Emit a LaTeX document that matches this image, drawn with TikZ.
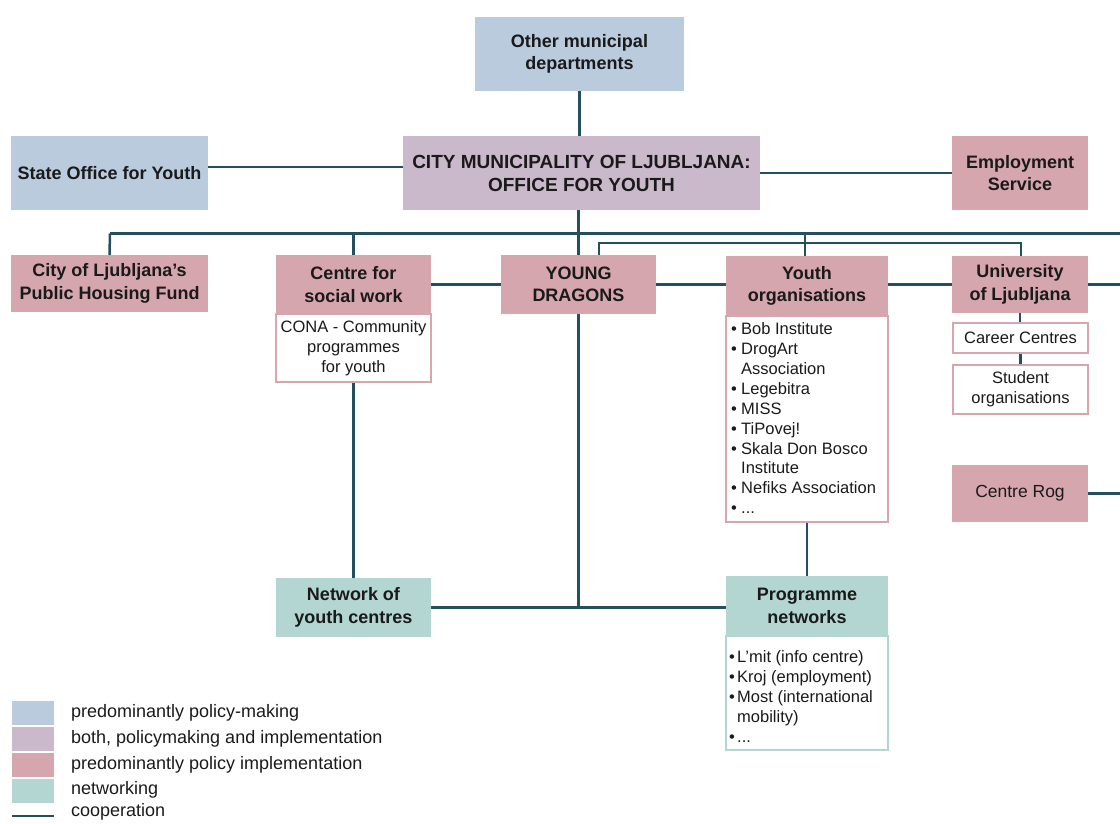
\documentclass[tikz,border=0pt]{standalone}
\usepackage{fontspec}
\setmainfont{Liberation Sans}
\definecolor{cblue}{HTML}{B9CBDD}
\definecolor{cpurple}{HTML}{C9B9CB}
\definecolor{cpink}{HTML}{D6A6AE}
\definecolor{cteal}{HTML}{B3D6D3}
\definecolor{cline}{HTML}{244F5D}
\definecolor{txt}{HTML}{1A1A1A}
\begin{document}
\begin{tikzpicture}[x=1pt,y=-1pt,
  box/.style={rectangle, inner sep=0pt, align=center, text=txt,
    font=\bfseries\fontsize{18}{22.5}\selectfont},
  policy/.style={box, fill=cblue},
  both/.style={box, fill=cpurple},
  impl/.style={box, fill=cpink},
  netw/.style={box, fill=cteal},
  subbox/.style={rectangle, inner sep=0pt, fill=white, draw=cpink, line width=1.4pt,
    align=center, text=txt, font=\fontsize{16.5}{20}\selectfont},
  listtext/.style={inner sep=0pt, align=left, text=txt, anchor=north west,
    font=\fontsize{16.5}{19.9}\selectfont},
  conn/.style={draw=cline, line width=2.5pt},
  swatch/.style={rectangle, inner sep=0pt, minimum width=42pt, minimum height=24pt},
  legtext/.style={inner sep=0pt, anchor=west, text=txt, font=\fontsize{18}{20}\selectfont}
]
\useasboundingbox (0,0) rectangle (1120,823);
\clip (0,0) rectangle (1120,823);

% ---------- nodes ----------
\node[policy, minimum width=209pt, minimum height=74pt] (other) at (579.5,54) {Other municipal\\departments};
\node[both, minimum width=357pt, minimum height=74pt, font=\bfseries\fontsize{19}{23}\selectfont] (city) at (581.5,173) {CITY MUNICIPALITY OF LJUBLJANA:\\OFFICE FOR YOUTH};
\node[policy, minimum width=197pt, minimum height=74pt] (state) at (109.5,173) {State Office for Youth};
\node[impl, minimum width=136pt, minimum height=74pt] (emp) at (1020,173) {Employment\\Service};

\node[impl, minimum width=197pt, minimum height=57pt] (housing) at (109.5,283.5) {City of Ljubljana’s\\Public Housing Fund};
\node[impl, minimum width=155pt, minimum height=59pt] (csw) at (353.5,284.5) {Centre for\\social work};
\node[subbox, minimum width=155pt, minimum height=68pt] (cona) at (353.5,348) {CONA - Community\\programmes\\for youth};
\node[impl, minimum width=155pt, minimum height=59pt] (yd) at (578.5,284.5) {YOUNG\\DRAGONS};
\node[impl, minimum width=162pt, minimum height=60pt] (yo) at (807,286) {Youth\\organisations};
\node[subbox, minimum width=162pt, minimum height=206pt] (yolist) at (807,419) {};
\node[listtext] (yotext) at (731,322.5) {%
\makebox[10pt][l]{•}Bob Institute\\
\makebox[10pt][l]{•}DrogArt\\
\makebox[10pt][l]{}Association\\
\makebox[10pt][l]{•}Legebitra\\
\makebox[10pt][l]{•}MISS\\
\makebox[10pt][l]{•}TiPovej!\\
\makebox[10pt][l]{•}Skala Don Bosco\\
\makebox[10pt][l]{}Institute\\
\makebox[10pt][l]{•}Nefiks Association\\
\makebox[10pt][l]{•}...};
\node[impl, minimum width=136pt, minimum height=57pt] (uni) at (1020,284.5) {University\\of Ljubljana};
\node[subbox, minimum width=135pt, minimum height=30pt] (career) at (1020.5,338) {Career Centres};
\node[subbox, minimum width=135pt, minimum height=49pt] (student) at (1020.5,389.5) {Student\\organisations};
\node[impl, minimum width=136pt, minimum height=57pt, font=\fontsize{17.5}{22}\selectfont] (rog) at (1020,493.5) {Centre Rog};

\node[netw, minimum width=155pt, minimum height=59pt] (nyc) at (353.5,607.5) {Network of\\youth centres};
\node[netw, minimum width=162pt, minimum height=60pt] (pn) at (807,606) {Programme\\networks};
\node[subbox, draw=cteal, minimum width=162pt, minimum height=114pt] (pnlist) at (807,693) {};
\node[listtext] (pntext) at (729,650.5) {%
\makebox[8pt][l]{•}L’mit (info centre)\\
\makebox[8pt][l]{•}Kroj (employment)\\
\makebox[8pt][l]{•}Most (international\\
\makebox[8pt][l]{}mobility)\\
\makebox[8pt][l]{•}...};

% ---------- bus coordinates ----------
\coordinate (busL) at (110,233.5);
\coordinate (busR) at (1120,233.5);
\coordinate (bus2L) at (599,243);
\coordinate (bus2R) at (1021,243);
\coordinate (yoTop) at (805,233.5);
\coordinate (rightA) at (1120,284.5);
\coordinate (rightRog) at (1120,493.5);

% ---------- connectors ----------
\draw[conn] (other.south) -- (other.south |- city.north);
\draw[conn] ([yshift=6pt]state.east) -- ([yshift=6pt]state.east -| city.west);
\draw[conn] (city.east) -- (emp.west);
\draw[conn] (city.south -| yd.north) -- (yd.north);
\draw[conn] (busL) -- (busR);
\draw[conn] (busL) -- (housing.north);
\draw[conn] (busL -| csw.north) -- (csw.north);
\draw[conn] (yoTop) -- (yoTop |- yo.north);
\draw[conn] (bus2L |- yd.north) -- (bus2L) -- (bus2R) -- (bus2R |- uni.north);
\draw[conn] (csw.east) -- (yd.west);
\draw[conn] (yd.east) -- (yd.east -| yo.west);
\draw[conn] (uni.west -| yo.east) -- (uni.west);
\draw[conn] (uni.east) -- (rightA);
\draw[conn] (uni.south) -- (uni.south |- career.north);
\draw[conn] (career.south) -- (career.south |- student.north);
\draw[conn] (rog.east) -- (rightRog);
\draw[conn] (cona.south -| nyc.north) -- (nyc.north);
\draw[conn] (yd.south) -- (yd.south |- nyc.east);
\draw[conn] (nyc.east) -- (nyc.east -| pn.west);
\draw[conn] (yolist.south) -- (pn.north);

% ---------- legend ----------
\node[swatch, fill=cblue] (lg1) at (33,713) {};
\node[swatch, fill=cpurple] (lg2) at (33,739) {};
\node[swatch, fill=cpink] (lg3) at (33,765) {};
\node[swatch, fill=cteal] (lg4) at (33,791) {};
\coordinate (lg5a) at (12,816);
\coordinate (lg5b) at (54,816);
\draw[conn] (lg5a) -- (lg5b);
\node[legtext] (lt1) at (71,713) {predominantly policy-making};
\node[legtext] (lt2) at (71,739) {both, policymaking and implementation};
\node[legtext] (lt3) at (71,765) {predominantly policy implementation};
\node[legtext] (lt4) at (71,790) {networking};
\node[legtext] (lt5) at (71,812) {cooperation};
\end{tikzpicture}
\end{document}
